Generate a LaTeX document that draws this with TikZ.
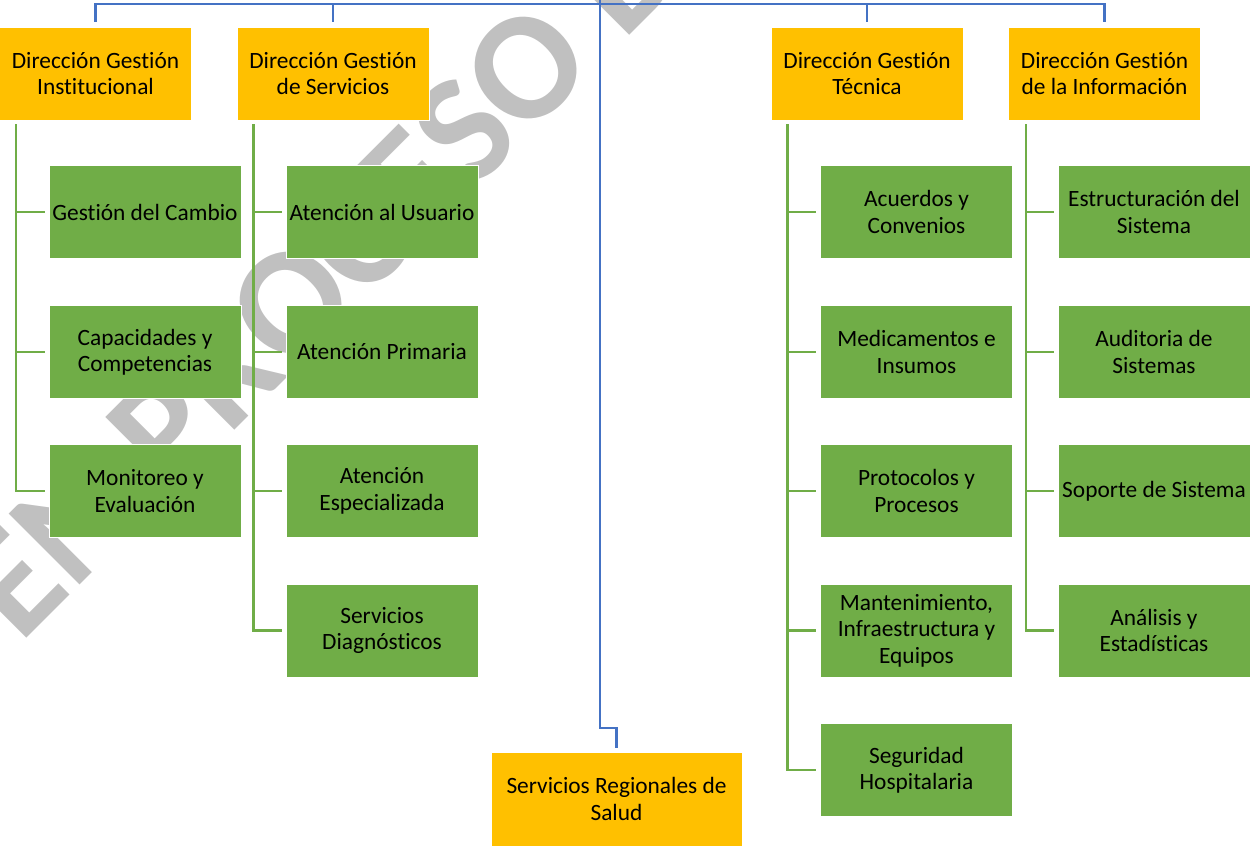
\documentclass[tikz,border=0pt]{standalone}
\usepackage{fontspec}
\setmainfont{Carlito}[Ligatures={NoCommon}]
\usetikzlibrary{calc}

\definecolor{headorange}{HTML}{FFC000}
\definecolor{unitgreen}{HTML}{70AD47}
\definecolor{linkblue}{HTML}{4472C4}
\definecolor{markgray}{HTML}{C0C0C0}

\begin{document}
\begin{tikzpicture}[x=0.02cm, y=-0.02cm,
    head/.style={fill=headorange, draw=white, line width=0.4pt, minimum width=3.84cm,
      minimum height=1.86cm, inner sep=0pt, align=center, font=\fontsize{13.3}{15}\selectfont},
    unit/.style={head, fill=unitgreen},
    bline/.style={draw=linkblue, line width=1.3pt},
    gline/.style={draw=unitgreen, line width=1.5pt},
    wmark/.style={text=markgray, inner sep=0pt, font=\fontsize{88}{88}\selectfont\bfseries}]
    \useasboundingbox (0,0) rectangle (1252,846);

    % Watermark
    \node[wmark, rotate=45, anchor=base west] (wm) at (20,645) {EN PROCESO DE};

    % Direcciones
    \node[head] (dgi) at (95.5,73.5) {Dirección Gestión\\Institucional};
    \node[head] (dgs) at (333,73.5) {Dirección Gestión\\de Servicios};
    \node[head] (dgt) at (867,73.5) {Dirección Gestión\\Técnica};
    \node[head] (dgin) at (1104.5,73.5) {Dirección Gestión\\de la Información};
    \node[head, minimum width=5.02cm, minimum height=1.88cm] (srs) at (616.5,799) {Servicios Regionales de\\Salud};

    % Unidades
    \node[unit] (gi1) at (145,212) {Gestión del Cambio};
    \node[unit] (gi2) at (145,352) {Capacidades y\\Competencias};
    \node[unit] (gi3) at (145,491) {Monitoreo y\\Evaluación};

    \node[unit] (gs1) at (382,212) {Atención al Usuario};
    \node[unit] (gs2) at (382,352) {Atención Primaria};
    \node[unit] (gs3) at (382,491) {Atención\\Especializada};
    \node[unit] (gs4) at (382,630.5) {Servicios\\Diagnósticos};

    \node[unit] (gt1) at (916.5,212) {Acuerdos y\\Convenios};
    \node[unit] (gt2) at (916.5,352) {Medicamentos e\\Insumos};
    \node[unit] (gt3) at (916.5,491) {Protocolos y\\Procesos};
    \node[unit] (gt4) at (916.5,630.5) {Mantenimiento,\\Infraestructura y\\Equipos};
    \node[unit] (gt5) at (916.5,770) {Seguridad\\Hospitalaria};

    \node[unit] (gn1) at (1154,212) {Estructuración del\\Sistema};
    \node[unit] (gn2) at (1154,352) {Auditoria de\\Sistemas};
    \node[unit] (gn3) at (1154,491) {Soporte de Sistema};
    \node[unit] (gn4) at (1154,630.5) {Análisis y\\Estadísticas};

    % Top connections
    \coordinate (root) at (600,0);
    \coordinate (bus) at (600,4);
    \draw[bline] ($(dgi.north)+(0,-5)$) |- (bus);
    \draw[bline] ($(dgs.north)+(0,-5)$) |- (bus);
    \draw[bline] ($(dgt.north)+(0,-5)$) |- (bus);
    \draw[bline] ($(dgin.north)+(0,-5)$) |- (bus);
    \draw[bline] (root) -- ++(0,728) -| ($(srs.north)+(0,-4)$);

    % Unit connections
    \draw[gline] ($(dgi.south west)+(17,4)$) |- ($(gi1.west)+(-4,0)$);
    \draw[gline] ($(dgi.south west)+(17,4)$) |- ($(gi2.west)+(-4,0)$);
    \draw[gline] ($(dgi.south west)+(17,4)$) |- ($(gi3.west)+(-4,0)$);

    \draw[gline] ($(dgs.south west)+(17,4)$) |- ($(gs1.west)+(-4,0)$);
    \draw[gline] ($(dgs.south west)+(17,4)$) |- ($(gs2.west)+(-4,0)$);
    \draw[gline] ($(dgs.south west)+(17,4)$) |- ($(gs3.west)+(-4,0)$);
    \draw[gline] ($(dgs.south west)+(17,4)$) |- ($(gs4.west)+(-4,0)$);

    \draw[gline] ($(dgt.south west)+(17,4)$) |- ($(gt1.west)+(-4,0)$);
    \draw[gline] ($(dgt.south west)+(17,4)$) |- ($(gt2.west)+(-4,0)$);
    \draw[gline] ($(dgt.south west)+(17,4)$) |- ($(gt3.west)+(-4,0)$);
    \draw[gline] ($(dgt.south west)+(17,4)$) |- ($(gt4.west)+(-4,0)$);
    \draw[gline] ($(dgt.south west)+(17,4)$) |- ($(gt5.west)+(-4,0)$);

    \draw[gline] ($(dgin.south west)+(18,4)$) |- ($(gn1.west)+(-4,0)$);
    \draw[gline] ($(dgin.south west)+(18,4)$) |- ($(gn2.west)+(-4,0)$);
    \draw[gline] ($(dgin.south west)+(18,4)$) |- ($(gn3.west)+(-4,0)$);
    \draw[gline] ($(dgin.south west)+(18,4)$) |- ($(gn4.west)+(-4,0)$);
  \end{tikzpicture}
\end{document}
